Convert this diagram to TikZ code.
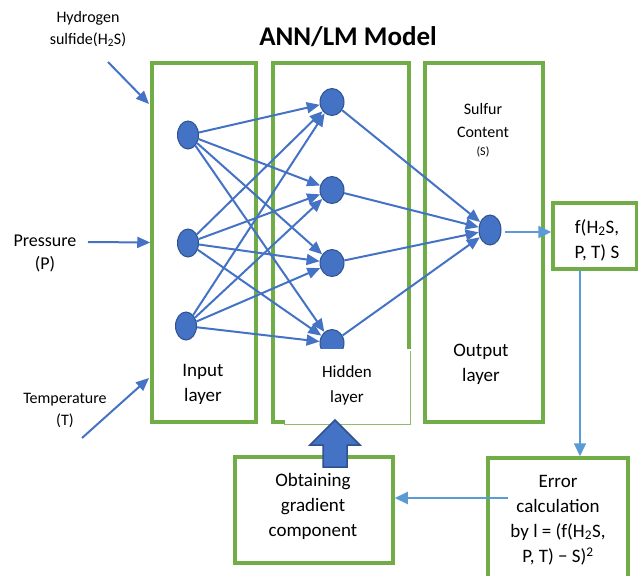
\documentclass[tikz,border=0pt]{standalone}
\usepackage{fontspec}
\setmainfont{Carlito}
\usetikzlibrary{arrows.meta,shapes.geometric}
\definecolor{boxgreen}{HTML}{70AD47}
\definecolor{nodeblue}{HTML}{4472C4}
\definecolor{nodeedge}{HTML}{2F528F}
\definecolor{lightblue}{HTML}{5B9BD5}
\tikzset{
  layerbox/.style={draw=boxgreen, line width=3.5pt, inner sep=0pt},
  neuron/.style={ellipse, draw=nodeedge, fill=nodeblue, line width=1pt, minimum width=21pt, minimum height=28pt, inner sep=0pt},
  link/.style={draw=nodeblue, line width=2pt, -{Triangle[length=13pt,width=11pt]}},
  flow/.style={draw=lightblue, line width=2pt, -{Triangle[length=13pt,width=12pt]}},
  txt/.style={font=\fontsize{19}{25}\selectfont, align=center, inner sep=0pt},
  small/.style={font=\fontsize{16}{22}\selectfont, align=center, inner sep=0pt},
  tiny/.style={font=\fontsize{12}{16}\selectfont, align=center, inner sep=0pt},
  bigarrow/.style={draw=nodeedge, fill=nodeblue, line width=1.5pt, line join=miter},
}
\begin{document}
\begin{tikzpicture}[x=1pt,y=-1pt]
\useasboundingbox (0,0) rectangle (638,576);
\clip (0,0) rectangle (638,576);

\node[font=\fontsize{27}{30}\selectfont\bfseries] (title) at (348,37) {ANN/LM Model};

\node[layerbox, minimum width=104pt, minimum height=359pt] (inbox) at (204,242.5) {};
\node[layerbox, minimum width=136pt, minimum height=359pt] (hidbox) at (341,242.5) {};
\node[layerbox, minimum width=118pt, minimum height=359pt] (outbox) at (484,242.5) {};
\node[layerbox, minimum width=84pt, minimum height=66pt] (fbox) at (595,236) {};
\node[layerbox, minimum width=158pt, minimum height=106pt] (grad) at (314,510) {};
\node[layerbox, minimum width=140pt, minimum height=142pt] (err) at (558,529) {};

\node[neuron] (i1) at (188,135) {};
\node[neuron] (i2) at (188,243) {};
\node[neuron] (i3) at (186,326) {};
\node[neuron, minimum width=24pt, minimum height=27pt] (h1) at (332,102) {};
\node[neuron, minimum width=24pt, minimum height=27pt] (h2) at (332,190) {};
\node[neuron, minimum width=24pt, minimum height=27pt] (h3) at (332,263) {};
\node[neuron, minimum width=24pt, minimum height=27pt] (h4) at (332,343) {};
\node[neuron, minimum width=22pt, minimum height=30pt] (o1) at (490,230) {};

\foreach \i in {1,2,3}
  \foreach \h in {1,2,3,4}
    \draw[link] (i\i) -- (h\h);
\foreach \h in {1,2,3,4}
  \draw[link] (h\h) -- (o1);

\fill[white] (285,349) rectangle (412,426);
\draw[boxgreen!80, line width=1pt] (410,351) |- (284,424);
\node[txt, font=\fontsize{17}{25}\selectfont] (hidlbl) at (347,385) {Hidden\\layer};

\node[small] (h2s) at (88,29) {Hydrogen\\sulfide(H\textsubscript{2}S)};
\node[txt, font=\fontsize{18}{23}\selectfont] (pres) at (45,253) {Pressure\\(P)};
\node[small] (temp) at (65,410) {Temperature\\(T)};
\coordinate (h2sA) at (108,62);
\coordinate (h2sB) at (149,104);
\coordinate (presA) at (88,242);
\coordinate (tempA) at (82,438);
\coordinate (tempB) at (149,378);
\draw[link] (h2sA) -- (h2sB);
\draw[link] (presA) -- (inbox.west);
\draw[link] (tempA) -- (tempB);

\node[txt] (inlbl) at (203,384) {Input\\layer};
\node[txt] (outlbl) at (481,364) {Output\\layer};
\node[font=\fontsize{16}{23}\selectfont, align=center, inner sep=0pt] (sulf) at (483,121) {Sulfur\\Content};
\node[tiny] (slbl) at (483,152) {(S)};
\node[txt] (flbl) at (597,240) {f(H\textsubscript{2}S,\\P, T) S};
\node[txt] (gradlbl) at (313,506) {Obtaining\\gradient\\component};
\node[txt] (errlbl) at (558,520) {Error\\calculation\\by l = (f(H\textsubscript{2}S,\\P, T) − S)\textsuperscript{2}};

\coordinate (oA) at (505,232);
\coordinate (fA) at (580,270);
\coordinate (eA) at (508,498);
\draw[flow] (oA) -- (fbox.west |- oA);
\draw[flow] (fA) -- (fA |- err.north);
\draw[flow] (eA) -- (grad.east |- eA);

\draw[bigarrow] (323,467) -- (323,445) -- (310,445) -- (335,420) -- (360,445) -- (347,445) -- (347,467) -- cycle;
\end{tikzpicture}
\end{document}
